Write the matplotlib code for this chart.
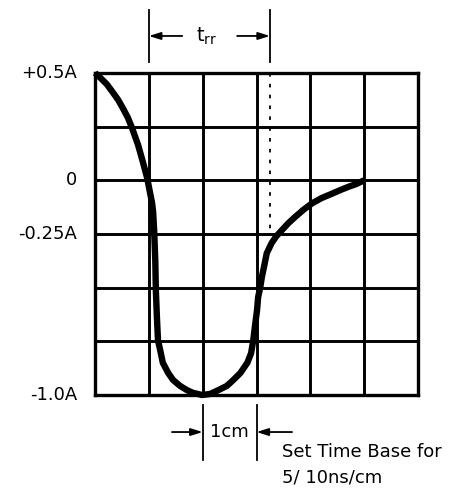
import numpy as np
import matplotlib.pyplot as plt

# Curve (grid units, 1 division = 1 cm)
curve_x = [0.0, 0.09, 0.22, 0.33, 0.43, 0.52, 0.61, 0.69, 0.80, 0.89, 0.97, 1.02, 1.06,
           1.08, 1.10, 1.12, 1.13, 1.15, 1.17, 1.21, 1.26, 1.36, 1.45, 1.58, 1.71, 1.82,
           1.99, 2.14, 2.29, 2.45, 2.57, 2.70, 2.83, 2.90, 2.94, 2.97, 3.01, 3.03, 3.07,
           3.10, 3.14, 3.19, 3.28, 3.37, 3.47, 3.59, 3.72, 3.87, 4.03, 4.21, 4.40, 4.56,
           4.71, 4.85, 5.0]
curve_y = [6.0, 5.92, 5.79, 5.64, 5.50, 5.34, 5.17, 4.97, 4.66, 4.34, 4.04, 3.78, 3.58,
           3.41, 3.04, 2.50, 1.96, 1.45, 1.02, 0.84, 0.60, 0.41, 0.28, 0.17, 0.09, 0.04,
           0.0, 0.02, 0.09, 0.17, 0.28, 0.41, 0.60, 0.78, 1.02, 1.27, 1.58, 1.82, 2.01,
           2.20, 2.39, 2.64, 2.83, 2.96, 3.07, 3.20, 3.32, 3.45, 3.57, 3.67, 3.75, 3.82,
           3.88, 3.93, 4.0]

# y-axis labels
ylabel_pos = [6, 4, 3, 0]
ylabel_txt = ['+0.5A', '0', '-0.25A', '-1.0A']

ndiv = 6
trr_start, trr_end = 1.0, 3.25

fig = plt.figure(figsize=(4.73, 4.92), dpi=100)
ax = fig.add_axes([95 / 473, 97 / 492, 323 / 473, 322 / 492])
ax.set_xlim(0, ndiv)
ax.set_ylim(0, ndiv)
ax.set_xticks([])
ax.set_yticks([])
for s in ax.spines.values():
    s.set_linewidth(2.4)

# grid
for i in range(1, ndiv):
    ax.axvline(i, color='black', lw=2.1, zorder=1)
    ax.axhline(i, color='black', lw=2.1, zorder=1)

# dotted marker line for trr end
ax.plot([trr_end, trr_end], [6, 3.07], color='black', lw=1.3, ls=(0, (2, 4)), zorder=2)

# the recovery curve
ax.plot(curve_x, curve_y, color='black', lw=4.6, solid_capstyle='butt',
        solid_joinstyle='round', clip_on=False, zorder=3)

fs = 13
for yp, t in zip(ylabel_pos, ylabel_txt):
    ax.text(-0.33, yp, t, ha='right', va='center', fontsize=fs, clip_on=False)

arrow = dict(arrowstyle='-|>,head_length=0.7,head_width=0.22', lw=1.3, color='black',
             shrinkA=0, shrinkB=0)

# trr dimension on top
for xv in (trr_start, trr_end):
    ax.plot([xv, xv], [6.2, 7.17], color='black', lw=1.3, clip_on=False)
ax.annotate('', xy=(trr_start, 6.69), xytext=(1.62, 6.69), arrowprops=arrow,
            annotation_clip=False)
ax.annotate('', xy=(trr_end, 6.69), xytext=(2.64, 6.69), arrowprops=arrow,
            annotation_clip=False)
ax.text(2.08, 6.69, r'$\mathregular{t_{rr}}$', ha='center', va='center', fontsize=fs + 1)

# 1 cm dimension at bottom
for xv in (2.0, 3.0):
    ax.plot([xv, xv], [-0.19, -1.21], color='black', lw=1.3, clip_on=False)
ax.annotate('', xy=(2.0, -0.69), xytext=(1.43, -0.69), arrowprops=arrow,
            annotation_clip=False)
ax.annotate('', xy=(3.0, -0.69), xytext=(3.66, -0.69), arrowprops=arrow,
            annotation_clip=False)
ax.text(2.5, -0.69, '1cm', ha='center', va='center', fontsize=fs)
ax.text(3.48, -1.06, 'Set Time Base for', ha='left', va='center', fontsize=fs)
ax.text(3.48, -1.53, '5/ 10ns/cm', ha='left', va='center', fontsize=fs)

fig.savefig('out.png', dpi=100)
